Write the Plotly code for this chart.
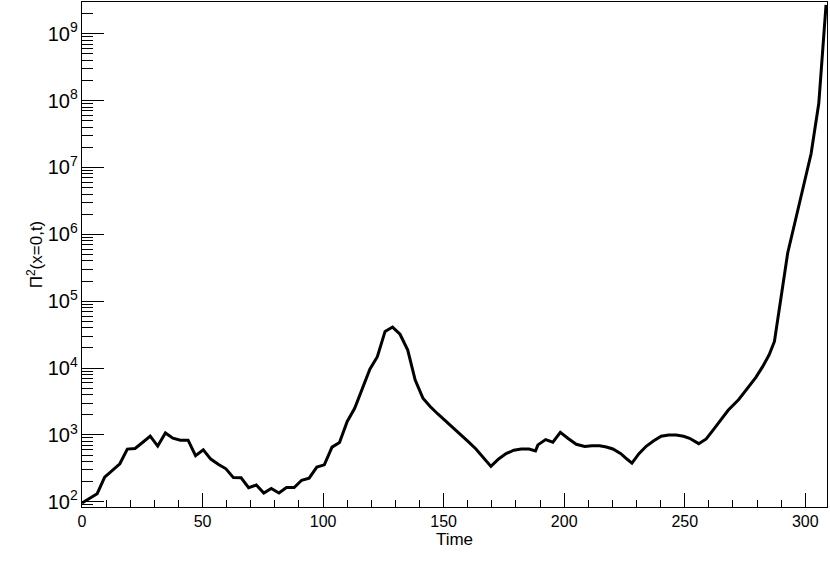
import plotly.graph_objects as go

# ── data ────────────────────────────────────────────────────────────────────
time = [
    0.0, 3.1, 6.3, 9.4, 12.6, 15.7, 18.8, 22.0, 25.1, 28.3,
    31.4, 34.6, 37.7, 40.8, 44.0, 47.1, 50.3, 53.4, 56.5, 59.7,
    62.8, 66.0, 69.1, 72.3, 75.4, 78.5, 81.7, 84.8, 88.0, 91.1,
    94.2, 97.4, 100.5, 103.7, 106.8, 110.0, 113.1, 116.2, 119.4, 122.5,
    125.7, 128.8, 131.9, 135.1, 138.2, 141.4, 144.5, 147.7, 150.8, 154.0,
    157.1, 160.2, 163.4, 166.5, 169.6, 172.8, 175.9, 179.1, 182.2, 185.4,
    188.1, 189.1, 192.3, 195.3, 198.4, 201.5, 205.0, 208.5, 211.5, 214.7,
    217.5, 220.2, 223.5, 226.0, 228.1, 231.0, 234.0, 237.0, 240.2, 243.3,
    246.4, 249.5, 252.0, 255.8, 258.9, 261.5, 264.4, 268.0, 272.4, 276.0,
    279.5, 282.3, 285.0, 287.2, 292.7, 296.2, 299.3, 302.4, 305.6, 308.6,
]
pi2 = [
    96, 113, 132, 234, 300, 370, 614, 627, 770, 960,
    680, 1070, 893, 835, 835, 490, 600, 435, 365, 311,
    230, 228, 162, 178, 135, 158, 135, 163, 163, 210,
    226, 330, 357, 657, 770, 1590, 2500, 5000, 9600, 14800,
    35300, 41000, 32000, 18600, 6600, 3540, 2640, 2040, 1620, 1290,
    1020, 795, 617, 457, 338, 436, 525, 590, 617, 617,
    577, 710, 850, 780, 1090, 890, 725, 670, 690, 687,
    660, 617, 525, 436, 378, 525, 676, 813, 955, 1000,
    1000, 955, 890, 740, 870, 1150, 1590, 2340, 3390, 5000,
    7240, 10500, 15800, 25000, 525000, 1.8e6, 5.4e6, 1.6e7, 9.1e7, 2.7e9,
]

x_ticks = [0, 50, 100, 150, 200, 250, 300]

FONT = "Liberation Sans, Arial, Helvetica, sans-serif"

fig = go.Figure()
fig.add_trace(go.Scatter(
    x=time, y=pi2, mode="lines",
    line=dict(color="black", width=3),
    showlegend=False,
))

fig.update_layout(
    width=830, height=565,
    margin=dict(l=82, r=3, t=2, b=58),
    plot_bgcolor="white", paper_bgcolor="white",
    font=dict(family=FONT, color="black", size=16),
    xaxis=dict(
        range=[0, 309],
        tickvals=x_ticks,
        ticks="inside", ticklen=14, tickwidth=1, tickcolor="black",
        minor=dict(ticks="inside", ticklen=7, dtick=10, tickcolor="black", showgrid=False),
        showline=True, linecolor="black", linewidth=1, mirror=True,
        showgrid=False, zeroline=False,
        tickfont=dict(size=16),
        title=dict(text="Time", font=dict(size=17), standoff=2),
    ),
    yaxis=dict(
        type="log",
        range=[1.922, 9.474],
        dtick=1, exponentformat="power",
        ticks="inside", ticklen=22, tickwidth=1, tickcolor="black",
        minor=dict(ticks="inside", ticklen=11, dtick="D1", tickcolor="black", showgrid=False),
        showline=True, linecolor="black", linewidth=1, mirror=True,
        showgrid=False, zeroline=False,
        tickfont=dict(size=16),
        title=dict(text="Π<sup>2</sup>(x=0,t)", font=dict(size=17), standoff=0),
    ),
)

# the page body has an 8px default margin; drop it so the figure fills the window
fig.write_html(
    "out.html",
    config={"displayModeBar": False},
    post_script="document.body.style.margin='0';",
)
